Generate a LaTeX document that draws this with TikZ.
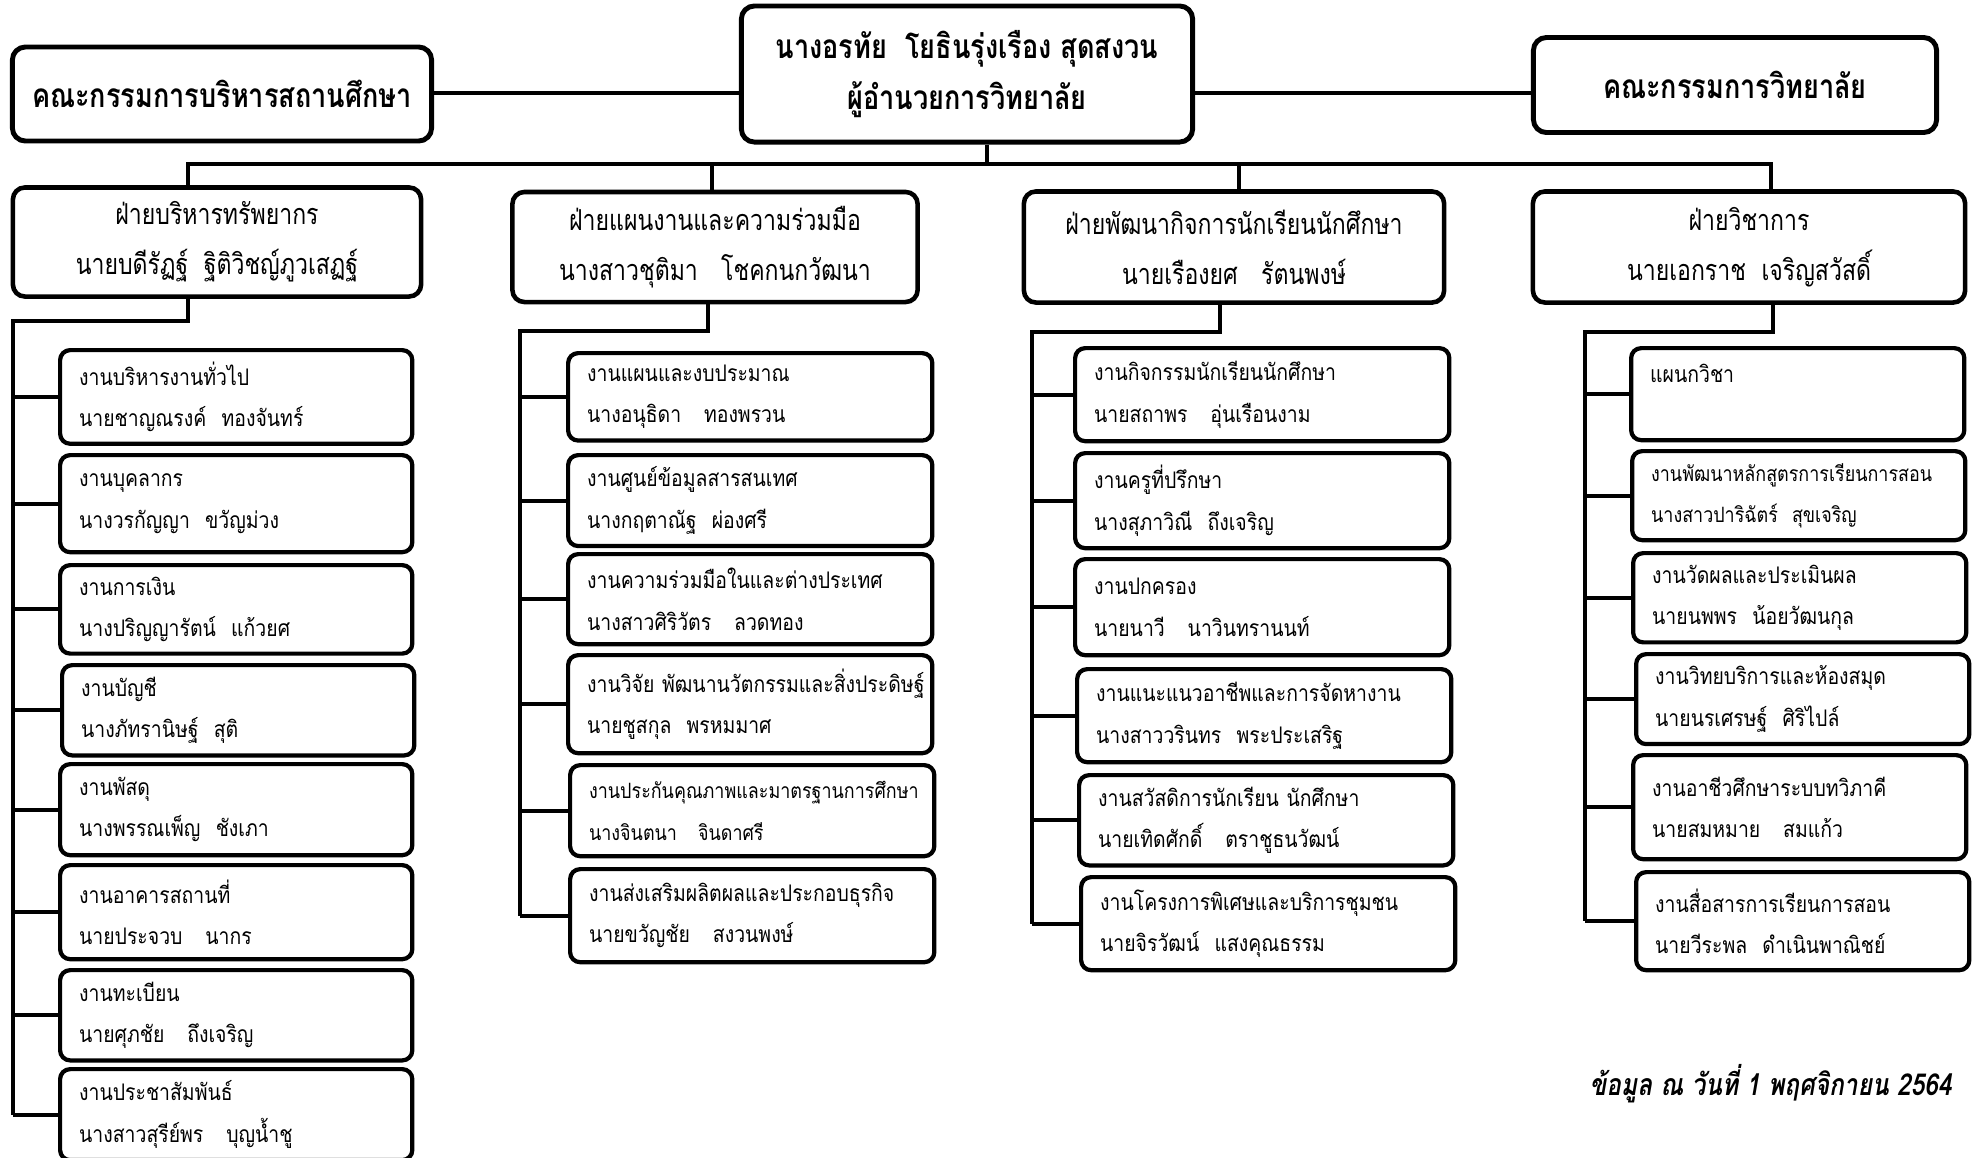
\documentclass[tikz,border=0pt]{standalone}
\usepackage{fontspec}
\setmainfont[Script=Thai]{Loma}
\newfontfamily\headfont[Script=Thai,FakeStretch=0.81]{Loma}
\newfontfamily\divfont[Script=Thai,FakeStretch=0.8]{Loma}
\newfontfamily\jobfont[Script=Thai,FakeStretch=0.85]{Loma}
\usetikzlibrary{positioning}

\tikzset{
  headbox/.style={draw,line width=1.4pt,rounded corners=0.13cm,align=center,
    font=\headfont\bfseries\fontsize{9.5}{14.5}\selectfont},
  divbox/.style={draw,line width=1.3pt,rounded corners=0.12cm,align=center,
    font=\divfont\fontsize{8.2}{14.2}\selectfont},
  jobbox/.style={draw,line width=1.2pt,rounded corners=0.1cm,anchor=north west,
    align=left,inner xsep=0.19cm,font=\jobfont\fontsize{6.5}{11.8}\selectfont},
  jobA/.style={jobbox,text width=3.14cm},
  jobB/.style={jobbox,text width=3.26cm},
  jobC/.style={jobbox,text width=3.36cm},
  jobD/.style={jobbox,text width=2.95cm},
  tight/.style={font=\jobfont\fontsize{6}{11.8}\selectfont},
  link/.style={line width=1.1pt}
}

\begin{document}
\begin{tikzpicture}[x=0.01cm,y=-0.01cm]
  \useasboundingbox (0,0) rectangle (1977,1157);

  % top row
  \node[headbox,minimum width=4.19cm,minimum height=0.94cm] (board) at (222,94) {คณะกรรมการบริหารสถานศึกษา};
  \node[headbox,minimum width=4.51cm,minimum height=1.36cm] (dir) at (967,74) {นางอรทัย~~โยธินรุ่งเรือง สุดสงวน\\ผู้อำนวยการวิทยาลัย};
  \node[headbox,minimum width=4.03cm,minimum height=0.95cm] (college) at (1735,85) {คณะกรรมการวิทยาลัย};

  % divisions
  \node[divbox,minimum width=4.08cm,minimum height=1.09cm] (d1) at (217,242) {ฝ่ายบริหารทรัพยากร\\นายบดีรัฏฐ์~~ฐิติวิชญ์ภูวเสฏฐ์};
  \node[divbox,minimum width=4.05cm,minimum height=1.10cm] (d2) at (715,247) {ฝ่ายแผนงานและความร่วมมือ\\นางสาวชุติมา~~~โชคกนกวัฒนา};
  \node[divbox,minimum width=4.20cm,minimum height=1.11cm] (d3) at (1234,247) {ฝ่ายพัฒนากิจการนักเรียนนักศึกษา\\นายเรืองยศ~~~รัตนพงษ์};
  \node[divbox,minimum width=4.32cm,minimum height=1.11cm] (d4) at (1749,247) {ฝ่ายวิชาการ\\นายเอกราช~~เจริญสวัสดิ์};

  % division 1
  \node[jobA,minimum height=0.90cm] (a1) at (58,348) {งานบริหารงานทั่วไป\\นายชาญณรงค์~~ทองจันทร์};
  \node[jobA,minimum height=0.97cm] (a2) at (58,453) {งานบุคลากร\\นางวรกัญญา~~ขวัญม่วง};
  \node[jobA,minimum height=0.87cm] (a3) at (58,563) {งานการเงิน\\นางปริญญารัตน์~~แก้วยศ};
  \node[jobA,minimum height=0.85cm] (a4) at (60,663) {งานบัญชี\\นางภัทรานิษฐ์~~สุติ};
  \node[jobA,minimum height=0.91cm] (a5) at (58,762) {งานพัสดุ\\นางพรรณเพ็ญ~~ชังเภา};
  \node[jobA,minimum height=0.94cm] (a6) at (58,863) {งานอาคารสถานที่\\นายประจวบ~~~นากร};
  \node[jobA,minimum height=0.87cm] (a7) at (58,968) {งานทะเบียน\\นายศุภชัย~~~ถึงเจริญ};
  \node[jobA,minimum height=0.85cm] (a8) at (58,1067) {งานประชาสัมพันธ์\\นางสาวสุรีย์พร~~~บุญน้ำชู};

  % division 2
  \node[jobB,minimum height=0.87cm] (b1) at (566,351) {งานแผนและงบประมาณ\\นางอนุธิดา~~~ทองพรวน};
  \node[jobB,minimum height=0.88cm] (b2) at (566,453) {งานศูนย์ข้อมูลสารสนเทศ\\นางกฤตาณัฐ~~ผ่องศรี};
  \node[jobB,minimum height=0.90cm] (b3) at (566,552) {งานความร่วมมือในและต่างประเทศ\\นางสาวศิริวัตร~~~ลวดทอง};
  \node[jobB,minimum height=0.98cm] (b4) at (566,653) {งานวิจัย~พัฒนานวัตกรรมและสิ่งประดิษฐ์\\นายชูสกุล~~พรหมมาศ};
  \node[jobB,tight,minimum height=0.91cm] (b5) at (568,763) {งานประกันคุณภาพและมาตรฐานการศึกษา\\นางจินตนา~~~จินดาศรี};
  \node[jobB,minimum height=0.93cm] (b6) at (568,867) {งานส่งเสริมผลิตผลและประกอบธุรกิจ\\นายขวัญชัย~~~สงวนพงษ์};

  % division 3
  \node[jobC,minimum height=0.93cm] (c1) at (1073,346) {งานกิจกรรมนักเรียนนักศึกษา\\นายสถาพร~~~อุ่นเรือนงาม};
  \node[jobC,minimum height=0.95cm] (c2) at (1073,451) {งานครูที่ปรึกษา\\นางสุภาวิณี~~ถึงเจริญ};
  \node[jobC,minimum height=0.96cm] (c3) at (1073,557) {งานปกครอง\\นายนาวี~~~นาวินทรานนท์};
  \node[jobC,minimum height=0.93cm] (c4) at (1075,667) {งานแนะแนวอาชีพและการจัดหางาน\\นางสาววรินทร~~พระประเสริฐ};
  \node[jobC,minimum height=0.89cm] (c5) at (1077,773) {งานสวัสดิการนักเรียน~นักศึกษา\\นายเทิดศักดิ์~~~ตราชูธนวัฒน์};
  \node[jobC,minimum height=0.93cm] (c6) at (1079,875) {งานโครงการพิเศษและบริการชุมชน\\นายจิรวัฒน์~~แสงคุณธรรม};

  % division 4
  \node[jobD,minimum height=0.92cm] (e1) at (1629,346) {แผนกวิชา\\\mbox{}};
  \node[jobD,tight,minimum height=0.89cm] (e2) at (1630,449) {งานพัฒนาหลักสูตรการเรียนการสอน\\นางสาวปาริฉัตร์~~สุขเจริญ};
  \node[jobD,minimum height=0.87cm] (e3) at (1631,551) {งานวัดผลและประเมินผล\\นายนพพร~~น้อยวัฒนกุล};
  \node[jobD,minimum height=0.86cm] (e4) at (1634,652) {งานวิทยบริการและห้องสมุด\\นายนรเศรษฐ์~~ศิริไปล์};
  \node[jobD,minimum height=1.04cm] (e5) at (1631,753) {งานอาชีวศึกษาระบบทวิภาคี\\นายสมหมาย~~~สมแก้ว};
  \node[jobD,minimum height=0.98cm] (e6) at (1634,870) {งานสื่อสารการเรียนการสอน\\นายวีระพล~~ดำเนินพาณิชย์};

  \node[anchor=east,font=\headfont\bfseries\itshape\fontsize{8.6}{12}\selectfont] (note) at (1964,1084) {ข้อมูล ณ วันที่ 1 พฤศจิกายน 2564};

  % connectors
  \coordinate (h0) at (0,93);
  \coordinate (u0) at (987,164);
  \coordinate (u1) at (188,164);
  \coordinate (u2) at (712,164);
  \coordinate (u3) at (1239,164);
  \coordinate (u4) at (1771,164);
  \coordinate (f1) at (188,321);
  \coordinate (f2) at (708,331);
  \coordinate (f3) at (1220,332);
  \coordinate (f4) at (1773,332);
  \coordinate (k1) at (13,321);
  \coordinate (k2) at (520,331);
  \coordinate (k3) at (1032,332);
  \coordinate (k4) at (1585,332);

  \begin{scope}[every path/.style={link}]
    \draw (board.east |- h0) -- (dir.west |- h0);
    \draw (dir.east |- h0) -- (college.west |- h0);
    \draw (u0 |- dir.south) -- (u0);
    \draw (u1 |- d1.north) -- (u1) -- (u4) -- (u4 |- d4.north);
    \draw (u2) -- (u2 |- d2.north);
    \draw (u3) -- (u3 |- d3.north);

    \draw (f1 |- d1.south) -- (f1) -- (k1) -- (k1 |- a8.west);
    \draw (f2 |- d2.south) -- (f2) -- (k2) -- (k2 |- b6.west);
    \draw (f3 |- d3.south) -- (f3) -- (k3) -- (k3 |- c6.west);
    \draw (f4 |- d4.south) -- (f4) -- (k4) -- (k4 |- e6.west);

    \draw (k1 |- a1.west) -- (a1.west);  \draw (k1 |- a2.west) -- (a2.west);
    \draw (k1 |- a3.west) -- (a3.west);  \draw (k1 |- a4.west) -- (a4.west);
    \draw (k1 |- a5.west) -- (a5.west);  \draw (k1 |- a6.west) -- (a6.west);
    \draw (k1 |- a7.west) -- (a7.west);  \draw (k1 |- a8.west) -- (a8.west);

    \draw (k2 |- b1.west) -- (b1.west);  \draw (k2 |- b2.west) -- (b2.west);
    \draw (k2 |- b3.west) -- (b3.west);  \draw (k2 |- b4.west) -- (b4.west);
    \draw (k2 |- b5.west) -- (b5.west);  \draw (k2 |- b6.west) -- (b6.west);

    \draw (k3 |- c1.west) -- (c1.west);  \draw (k3 |- c2.west) -- (c2.west);
    \draw (k3 |- c3.west) -- (c3.west);  \draw (k3 |- c4.west) -- (c4.west);
    \draw (k3 |- c5.west) -- (c5.west);  \draw (k3 |- c6.west) -- (c6.west);

    \draw (k4 |- e1.west) -- (e1.west);  \draw (k4 |- e2.west) -- (e2.west);
    \draw (k4 |- e3.west) -- (e3.west);  \draw (k4 |- e4.west) -- (e4.west);
    \draw (k4 |- e5.west) -- (e5.west);  \draw (k4 |- e6.west) -- (e6.west);
  \end{scope}
\end{tikzpicture}
\end{document}
